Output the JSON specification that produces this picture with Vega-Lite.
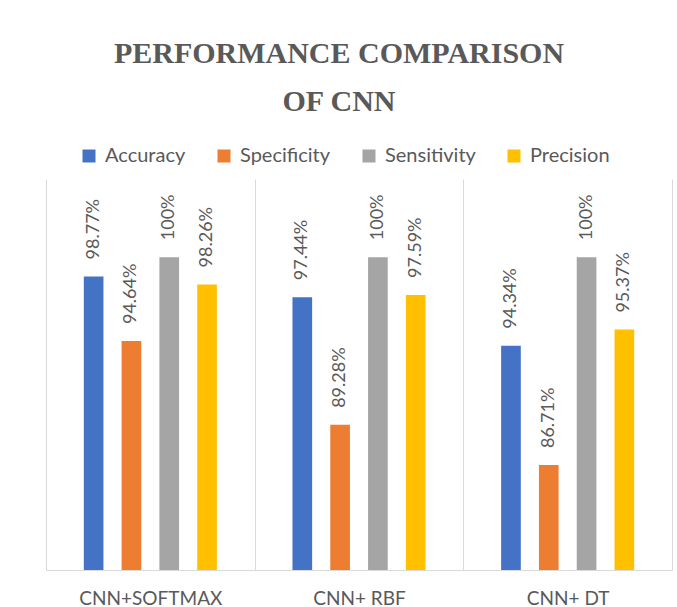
{
  "$schema": "https://vega.github.io/schema/vega-lite/v6.json",
  "width": 626,
  "height": 391,
  "autosize": {"type": "none"},
  "padding": {"left": 46, "top": 179, "right": 5, "bottom": 37},
  "background": "white",
  "config": {"view": {"stroke": null}},
  "title": {
    "text": ["PERFORMANCE COMPARISON", "OF CNN"],
    "font": "Liberation Serif",
    "fontSize": 30,
    "fontWeight": "bold",
    "color": "#595959",
    "lineHeight": 48,
    "anchor": "middle",
    "frame": "group",
    "dx": -20,
    "offset": 29
  },
  "data": {
    "values": [
      {"model": "CNN+SOFTMAX", "metric": "Accuracy", "value": 0.9877},
      {"model": "CNN+SOFTMAX", "metric": "Specificity", "value": 0.9464},
      {"model": "CNN+SOFTMAX", "metric": "Sensitivity", "value": 1.0},
      {"model": "CNN+SOFTMAX", "metric": "Precision", "value": 0.9826},
      {"model": "CNN+ RBF", "metric": "Accuracy", "value": 0.9744},
      {"model": "CNN+ RBF", "metric": "Specificity", "value": 0.8928},
      {"model": "CNN+ RBF", "metric": "Sensitivity", "value": 1.0},
      {"model": "CNN+ RBF", "metric": "Precision", "value": 0.9759},
      {"model": "CNN+ DT", "metric": "Accuracy", "value": 0.9434},
      {"model": "CNN+ DT", "metric": "Specificity", "value": 0.8671},
      {"model": "CNN+ DT", "metric": "Sensitivity", "value": 1.0},
      {"model": "CNN+ DT", "metric": "Precision", "value": 0.9537}
    ]
  },
  "encoding": {
    "x": {
      "field": "model",
      "type": "nominal",
      "sort": ["CNN+SOFTMAX", "CNN+ RBF", "CNN+ DT"],
      "scale": {"paddingInner": 0, "paddingOuter": 0},
      "axis": {
        "title": null,
        "labelAngle": 0,
        "labelFont": "Lato",
        "labelFontSize": 19,
        "labelColor": "#595959",
        "labelPadding": 19,
        "ticks": false,
        "domainColor": "#D9D9D9",
        "domainWidth": 1,
        "grid": true,
        "gridColor": "#D9D9D9",
        "gridWidth": 1,
        "tickBand": "extent"
      }
    },
    "xOffset": {
      "field": "metric",
      "type": "nominal",
      "sort": ["Accuracy", "Specificity", "Sensitivity", "Precision"],
      "scale": {"paddingInner": 0.48, "paddingOuter": 1.18}
    },
    "y": {
      "field": "value",
      "type": "quantitative",
      "scale": {"domain": [0.8, 1.05], "nice": false, "zero": false},
      "axis": null
    }
  },
  "layer": [
    {
      "mark": {"type": "bar"},
      "encoding": {
        "y2": {"datum": 0.8},
        "color": {
          "field": "metric",
          "type": "nominal",
          "scale": {
            "domain": ["Accuracy", "Specificity", "Sensitivity", "Precision"],
            "range": ["#4472C4", "#ED7D31", "#A5A5A5", "#FFC000"]
          },
          "legend": {
            "orient": "none",
            "legendX": 33,
            "legendY": -33,
            "direction": "horizontal",
            "title": null,
            "symbolType": "square",
            "symbolSize": 169,
            "symbolStrokeWidth": 0,
            "labelFont": "Lato",
            "labelFontSize": 20,
            "labelColor": "#595959",
            "labelOffset": 6,
            "columnPadding": 28,
            "padding": 0
          }
        }
      }
    },
    {
      "mark": {
        "type": "text",
        "angle": 270,
        "align": "left",
        "baseline": "middle",
        "dx": 17,
        "font": "Lato",
        "fontSize": 18,
        "color": "#595959"
      },
      "encoding": {
        "text": {"field": "value", "type": "quantitative", "format": ".2~%"}
      }
    }
  ]
}
